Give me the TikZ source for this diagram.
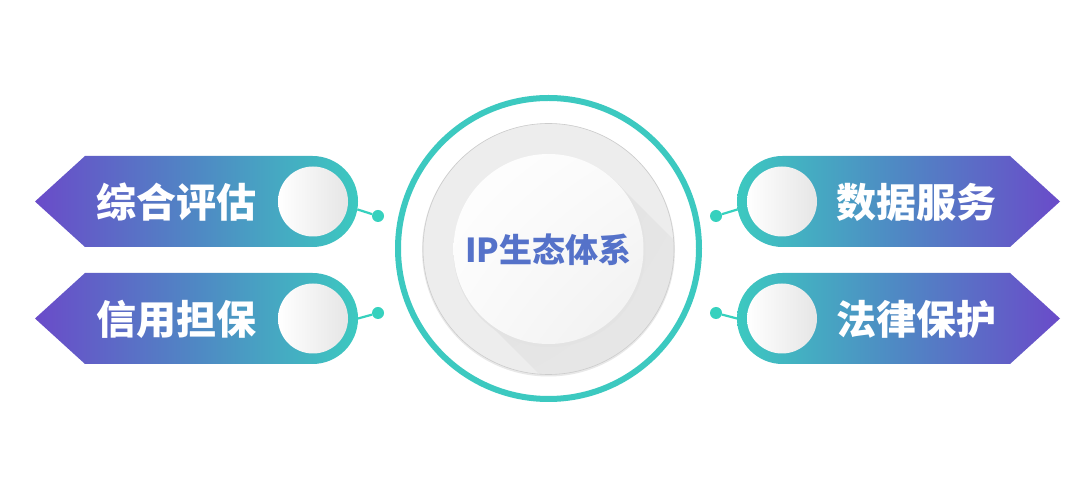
\documentclass[tikz,border=0pt]{standalone}
\usepackage{fontspec}
\usetikzlibrary{shadings}
\newfontfamily\cjk{Noto Sans CJK SC}
\definecolor{tpurple}{HTML}{6A4BC9}
\definecolor{tmid}{HTML}{4F88C4}
\definecolor{tteal}{HTML}{3CC9C0}
\definecolor{tdot}{HTML}{36D1BE}
\definecolor{ttext}{HTML}{5572C9}
\definecolor{diskgray}{HTML}{EDEDED}
\definecolor{shdA}{HTML}{DEDEDE}
\definecolor{shdB}{HTML}{EAEAEA}
\tikzset{
  tagtext/.style={font=\cjk\bfseries\fontsize{40}{44}\selectfont, text=white, inner sep=0},
  innerc/.style={circle, minimum size=70, inner sep=0, left color=white, right color=gray!20},
  dotc/.style={circle, fill=tdot, minimum size=12, inner sep=0},
  conn/.style={draw=tdot, line width=2.2},
}
\begin{document}
\begin{tikzpicture}[x=1pt,y=1pt]
\useasboundingbox (0,0) rectangle (1080,490);
\fill[white] (0,0) rectangle (1080,490);

% ---------- left tags ----------
\shade[left color=tpurple, right color=tteal, middle color=tmid]
  (85,334) -- (312.5,334) arc[start angle=90,end angle=-90,radius=45.5] -- (85,243) -- (35,288.5) -- cycle;
\shade[left color=tpurple, right color=tteal, middle color=tmid]
  (85,217) -- (312.5,217) arc[start angle=90,end angle=-90,radius=45.5] -- (85,126) -- (35,171.5) -- cycle;

% ---------- right tags ----------
\shade[left color=tteal, right color=tpurple, middle color=tmid]
  (1010,334) -- (782.5,334) arc[start angle=90,end angle=270,radius=45.5] -- (1010,243) -- (1060,288.5) -- cycle;
\shade[left color=tteal, right color=tpurple, middle color=tmid]
  (1010,217) -- (782.5,217) arc[start angle=90,end angle=270,radius=45.5] -- (1010,126) -- (1060,171.5) -- cycle;

% inner circles
\node[innerc] (c1) at (313,288.5) {};
\node[innerc] (c2) at (313,171.5) {};
\node[innerc] (c3) at (782,288.5) {};
\node[innerc] (c4) at (782,171.5) {};

% texts
\node[tagtext] (t1) at (176,288) {综合评估};
\node[tagtext] (t2) at (176,171) {信用担保};
\node[tagtext] (t3) at (916,288) {数据服务};
\node[tagtext] (t4) at (916,171) {法律保护};

% connectors and dots
\coordinate (e1) at (357.3,280.6);
\coordinate (e2) at (358,171.5);
\coordinate (e3) at (737.7,280.6);
\coordinate (e4) at (737,171.5);
\node[dotc] (d1) at (378,274) {};
\node[dotc] (d2) at (378,177) {};
\node[dotc] (d3) at (716,274) {};
\node[dotc] (d4) at (716,177) {};
\draw[conn] (e1) -- (d1);
\draw[conn] (e2) -- (d2);
\draw[conn] (e3) -- (d3);
\draw[conn] (e4) -- (d4);

% ---------- center ----------
\node[circle, draw=tteal, line width=6, minimum size=301, inner sep=0] (ring) at (548.5,241.5) {};
\fill[gray!18] (548.5,240) circle (126.5);
\fill[diskgray] (548.5,241) circle (125.5);
\begin{scope}
  \clip (548.5,241) circle (125.5);
  \shade[upper left=shdA, lower right=shdB, upper right=shdB, lower left=shdB]
    (615.7,308.2) -- (815.7,108.2) -- (681.3,-26.2) -- (481.3,173.8) -- cycle;
\end{scope}
\draw[gray!40, line width=0.6] (548.5,241) circle (125.5);
\fill[gray!22] (549.5,239) circle (96);
\shade[upper left=white, lower right=gray!12, upper right=white!96!gray, lower left=white!96!gray]
  (548.5,241) circle (95);
\node[font=\cjk\bfseries\fontsize{33}{36}\selectfont, text=ttext, inner sep=0] (title) at (548.5,240) {IP生态体系};
\end{tikzpicture}
\end{document}
